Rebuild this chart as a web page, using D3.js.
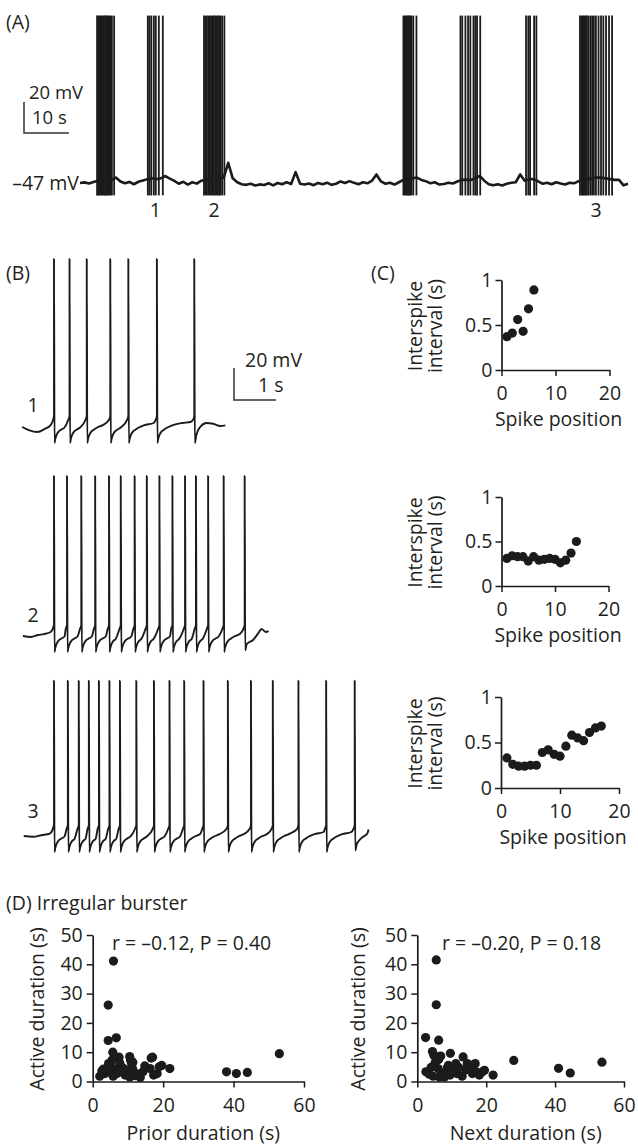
<!DOCTYPE html>
<html>
<head>
<meta charset="utf-8">
<script src="https://cdn.jsdelivr.net/npm/d3@7"></script>
<style>
  body { margin: 0; background: #fff; }
  text { font-family: "Open Sans", sans-serif; fill: #231f20; font-size: 19.5px; }
</style>
</head>
<body>
<div id="fig"></div>
<script>
// ---- data ----
const restMv = -47;

// (A) membrane potential, one sample per second (mV)
const traceA = [
  -47.0, -46.6, -47.3, -46.4, -45.6, -45.0, -44.6, -45.2, -43.5, -46.0,
  -47.2, -46.3, -47.8, -46.2, -45.4, -44.5, -44.0, -44.6, -44.0, -42.5,
  -44.2, -45.6, -47.5, -46.2, -48.0, -46.5, -47.4, -45.5, -45.0, -44.5,
  -44.6, -44.0, -43.6, -34.0, -44.0, -46.5, -47.8, -48.2, -47.5, -48.6,
  -47.9, -48.3, -47.2, -48.5, -47.0, -47.8, -46.5, -47.6, -40.0, -47.5,
  -48.0, -47.3, -48.4, -47.0, -47.8, -46.8, -48.2, -47.5, -46.0, -47.0,
  -45.8, -46.9, -47.8, -46.5, -47.2, -45.5, -41.5, -46.0, -47.5, -46.8,
  -48.0, -46.5, -45.0, -44.5, -44.0, -43.5, -45.0, -45.8, -47.2, -46.5,
  -48.0, -47.6, -46.8, -47.3, -46.0, -45.0, -44.8, -45.0, -44.0, -42.5,
  -45.5, -47.8, -48.5, -47.8, -48.6, -47.5, -46.8, -46.5, -41.5, -45.5,
  -44.5, -44.5, -46.0, -47.5, -46.8, -47.8, -46.5, -47.3, -48.0, -46.8,
  -47.2, -45.8, -45.0, -44.5, -44.0, -43.5, -43.5, -44.0, -44.5, -45.0,
  -45.0, -48.5, -47.5
];
const spikePeakA = 61;
const spikeTroughA = -55;

// spike times (s) of the unlabeled bursts in (A)
const burstA0 = [3.8, 4.05, 4.3, 4.55, 4.8, 5.05, 5.3, 5.55, 5.8, 6.05, 6.3, 6.55, 6.8, 7.1, 7.6];
const burstA4 = [72.0, 72.25, 72.5, 72.75, 73.0, 73.25, 73.5, 73.8, 74.2, 74.9];
const burstA5 = [84.7, 85.1, 85.8, 86.4, 86.9, 87.6, 88.0, 88.4, 89.1];
const burstA6 = [99.3, 99.8, 100.2, 101.1, 101.6];
// onsets (s) of the labeled bursts 1, 2, 3
const burstOnsets = [15.1, 27.6, 111.3];
const burstLabels = ["1", "2", "3"];

// (C) interspike intervals (s), by spike position
const isi1 = [0.37, 0.41, 0.56, 0.43, 0.68, 0.89];
const isi2 = [0.31, 0.34, 0.33, 0.33, 0.28, 0.33, 0.29, 0.30, 0.31, 0.30, 0.26, 0.29, 0.37, 0.50];
const isi3 = [0.33, 0.26, 0.24, 0.24, 0.25, 0.25, 0.39, 0.42, 0.37, 0.35, 0.46, 0.58, 0.55, 0.52, 0.61, 0.66, 0.68];

// (B) waveform pieces, [s from spike, mV]
const ahpShape = [[0.012, -10], [0.03, -7.5], [0.06, -5], [0.1, -3.2], [0.16, -1.8],
                  [0.25, -0.3], [0.38, 1.2], [0.6, 2.5], [0.8, 3.1]];
const preSpike = [[-0.03, 4.5], [0, 7]];
const peaksB = [105, 100, 97];
const preB1 = [[-0.76, -47], [-0.6, -48.9], [-0.4, -50.1], [-0.22, -48.2], [-0.08, -45.8]];
const postB1 = [[0.012, -57], [0.05, -52], [0.14, -47], [0.29, -44.5], [0.45, -45], [0.62, -46.4], [0.74, -46]];
const preB2 = [[-0.74, -47], [-0.55, -47.6], [-0.38, -46.4], [-0.24, -45.8], [-0.08, -44.5]];
const postB2 = [[0.012, -56], [0.05, -52], [0.2, -49.5], [0.33, -45], [0.4, -42.6], [0.5, -44.5], [0.57, -44]];
const preB3 = [[-0.72, -47], [-0.5, -47.5], [-0.3, -46.5], [-0.1, -45.5]];
const postB3 = [[0.012, -56], [0.05, -52], [0.1, -50], [0.2, -47.5], [0.3, -45.5], [0.33, -43]];

// (D) irregular burster durations (s)
const priorDur = [5.9, 4.4, 4.4, 6.7, 5.7, 7.5, 10.5, 11.4, 17.0, 18.9, 21.9, 38.0, 40.8, 43.9, 53.0,
  2.0, 2.6, 3.5, 4.5, 5.5, 5.9, 6.9, 8.1, 9.2, 9.8, 10.5, 11.3, 12.4, 13.5, 14.3, 16.3, 17.3, 18.3,
  19.6, 11.0, 7.7, 4.4, 5.8, 8.8, 14.8, 10.7, 16.6, 3.0, 12.0, 7.0];
const activeDurPrior = [41.1, 26.1, 14.0, 14.9, 10.0, 8.3, 8.5, 6.6, 8.3, 5.0, 4.4, 3.3, 2.7, 3.1, 9.5,
  1.8, 3.6, 2.7, 6.1, 7.3, 4.4, 2.7, 5.0, 2.2, 3.8, 1.5, 4.4, 2.7, 1.4, 3.3, 4.4, 2.2, 2.7,
  5.5, 6.3, 6.3, 3.8, 1.8, 4.4, 5.3, 7.4, 8.0, 4.2, 2.0, 3.5];
const nextDur = [5.5, 5.5, 6.2, 2.4, 4.4, 9.6, 6.8, 5.2, 13.3, 16.8, 28.0, 41.0, 44.4, 53.6, 22.0,
  18.9, 2.5, 4.0, 4.6, 6.0, 7.4, 8.6, 9.5, 10.5, 11.5, 12.0, 13.0, 14.0, 15.0, 16.0, 17.0, 18.0,
  5.2, 6.2, 11.2, 14.5, 15.5, 7.9, 6.4, 4.8, 9.0, 19.5, 3.5];
const activeDurNext = [41.5, 26.2, 14.1, 15.0, 10.2, 9.6, 8.7, 6.6, 8.4, 6.1, 7.2, 4.5, 2.9, 6.6, 2.2,
  3.3, 3.3, 4.8, 1.8, 4.4, 2.7, 4.4, 2.2, 3.9, 2.7, 4.8, 1.8, 3.9, 5.0, 2.7, 3.3, 2.2,
  8.7, 7.5, 6.1, 6.1, 4.4, 1.5, 1.5, 9.0, 5.5, 3.8, 2.5];
const statsText = ["r = \u20130.12, P = 0.40", "r = \u20130.20, P = 0.18"];

// ---- drawing ----
const W = 638, H = 1147;
const ink = "#1c1a1b";
const svg = d3.select("#fig").append("svg")
    .attr("width", W).attr("height", H);
svg.append("rect").attr("width", W).attr("height", H).attr("fill", "#fff");

function cumTimes(onset, isi) {
    const t = [onset];
    isi.forEach(d => t.push(t[t.length - 1] + d));
    return t;
}

// ---------- (A) ----------
const xA = d3.scaleLinear().domain([0, traceA.length - 1]).range([80, 628]);
// 20 mV = 31 px
const yA = d3.scaleLinear().domain([restMv, restMv + 20]).range([183, 152]);

svg.append("text").attr("x", 6).attr("y", 29).text("(A)");

const labeled = [isi1, isi2, isi3].map((isi, i) => cumTimes(burstOnsets[i], isi));
const allSpikesA = [burstA0, labeled[0], labeled[1], burstA4, burstA5, burstA6, labeled[2]].flat();

svg.append("g").selectAll("line").data(allSpikesA).join("line")
    .attr("x1", d => xA(d)).attr("x2", d => xA(d))
    .attr("y1", yA(spikePeakA)).attr("y2", yA(spikeTroughA))
    .attr("stroke", ink).attr("stroke-width", 1.8);

svg.append("path")
    .datum(traceA)
    .attr("fill", "none").attr("stroke", ink).attr("stroke-width", 2.6)
    .attr("stroke-linejoin", "round")
    .attr("d", d3.line().x((d, i) => xA(i)).y(d => yA(d)));

svg.append("g").selectAll("text").data(labeled).join("text")
    .attr("x", d => xA((d[0] + d[d.length - 1]) / 2))
    .attr("y", 217).attr("text-anchor", "middle")
    .text((d, i) => burstLabels[i]);

svg.append("text").attr("x", 79).attr("y", 190).attr("text-anchor", "end").text("\u201347 mV");

// scale bar A
const sbA = { x: 24, y: 133 };
svg.append("path")
    .attr("d", `M${sbA.x},${sbA.y - (yA(restMv) - yA(restMv + 20))}V${sbA.y}H${sbA.x + xA(10) - xA(0)}`)
    .attr("fill", "none").attr("stroke", "#333").attr("stroke-width", 1.5);
svg.append("text").attr("x", 29).attr("y", 99).style("font-size", "18.5px").text("20 mV");
svg.append("text").attr("x", 32).attr("y", 124).style("font-size", "18.5px").text("10 s");

// ---------- (B) ----------
svg.append("text").attr("x", 6).attr("y", 280).text("(B)");

const xB = d3.scaleLinear().domain([0, 1]).range([54, 96]);
const traceSpecs = [
    { isi: isi1, pre: preB1, post: postB1, base: 427, label: "1", ly: 412 },
    { isi: isi2, pre: preB2, post: postB2, base: 636, label: "2", ly: 622 },
    { isi: isi3, pre: preB3, post: postB3, base: 836, label: "3", ly: 818 }
];

traceSpecs.forEach((s, k) => {
    const yB = d3.scaleLinear().domain([restMv, restMv + 100]).range([s.base, s.base - 160]);
    const times = cumTimes(0, s.isi);
    const pts = s.pre.slice();
    pts.push([0, restMv + preSpike[1][1]]);
    times.forEach((t, i) => {
        pts.push([t, restMv + peaksB[k]]);
        const next = times[i + 1];
        if (next === undefined) {
            s.post.forEach(p => pts.push([t + p[0], p[1]]));
            return;
        }
        ahpShape.forEach(p => {
            if (t + p[0] < next - 0.05) pts.push([t + p[0], restMv + p[1]]);
        });
        preSpike.forEach(p => pts.push([next + p[0], restMv + p[1]]));
    });
    svg.append("path")
        .datum(pts)
        .attr("fill", "none").attr("stroke", ink).attr("stroke-width", 1.9)
        .attr("stroke-linejoin", "round")
        .attr("d", d3.line().x(d => xB(d[0])).y(d => yB(d[1])).curve(d3.curveMonotoneX));
    svg.append("text").attr("x", 33).attr("y", s.ly).attr("text-anchor", "middle").text(s.label);
});

// scale bar B
const sbB = { x: 234, y: 400 };
svg.append("path")
    .attr("d", `M${sbB.x},${sbB.y - 32}V${sbB.y}H${sbB.x + xB(1) - xB(0)}`)
    .attr("fill", "none").attr("stroke", "#333").attr("stroke-width", 1.5);
svg.append("text").attr("x", 245).attr("y", 367).text("20 mV");
svg.append("text").attr("x", 258).attr("y", 392).text("1 s");

// ---------- (C) ----------
svg.append("text").attr("x", 371).attr("y", 280).text("(C)");

const cPanels = [
    { isi: isi1, top: 280, bottom: 370, left: 501.5, right: 609.5 },
    { isi: isi2, top: 497, bottom: 586, left: 501.5, right: 608.5 },
    { isi: isi3, top: 697, bottom: 788, left: 501, right: 619 }
];

function styleAxis(g) {
    g.attr("font-family", null).attr("font-size", null);
    g.select(".domain").attr("stroke", ink).attr("stroke-width", 1.7);
    g.selectAll(".tick line").attr("stroke", ink).attr("stroke-width", 1.5);
    g.selectAll(".tick text").attr("fill", "#231f20");
}

cPanels.forEach(p => {
    const x = d3.scaleLinear().domain([0, 20]).range([p.left, p.right]);
    const y = d3.scaleLinear().domain([0, 1]).range([p.bottom, p.top]);
    svg.append("g").attr("transform", `translate(0,${p.bottom})`)
        .call(d3.axisBottom(x).tickValues([0, 10, 20]).tickSize(6).tickSizeOuter(0).tickPadding(10))
        .call(styleAxis);
    svg.append("g").attr("transform", `translate(${p.left},0)`)
        .call(d3.axisLeft(y).tickValues([0, 0.5, 1]).tickFormat(d => d).tickSize(6).tickSizeOuter(0).tickPadding(3))
        .call(styleAxis);
    svg.append("g").selectAll("circle").data(p.isi).join("circle")
        .attr("cx", (d, i) => x(i + 1)).attr("cy", d => y(d))
        .attr("r", 4.6).attr("fill", ink);
    svg.append("text").attr("x", (p.left + p.right) / 2 + 3).attr("y", p.bottom + 56)
        .attr("text-anchor", "middle").text("Spike position");
    const cy = (p.top + p.bottom) / 2 + 1;
    svg.append("text").attr("transform", `translate(422,${cy}) rotate(-90)`)
        .attr("text-anchor", "middle").text("Interspike");
    svg.append("text").attr("transform", `translate(442,${cy}) rotate(-90)`)
        .attr("text-anchor", "middle").text("interval (s)");
});

// ---------- (D) ----------
svg.append("text").attr("x", 6).attr("y", 910).text("(D) Irregular burster");

const dPanels = [
    { xs: priorDur, ys: activeDurPrior, left: 92.7, right: 304, title: "Prior duration (s)", stat: statsText[0], sx: 112, lx: 44 },
    { xs: nextDur, ys: activeDurNext, left: 417.3, right: 624, title: "Next duration (s)", stat: statsText[1], sx: 442, lx: 365 }
];

dPanels.forEach(p => {
    const x = d3.scaleLinear().domain([0, 60]).range([p.left, p.right]);
    const y = d3.scaleLinear().domain([0, 50]).range([1081.5, 935]);
    svg.append("g").attr("transform", "translate(0,1081.5)")
        .call(d3.axisBottom(x).tickValues([0, 20, 40, 60]).tickSize(6).tickSizeOuter(0).tickPadding(11))
        .call(styleAxis);
    svg.append("g").attr("transform", `translate(${p.left},0)`)
        .call(d3.axisLeft(y).tickValues([0, 10, 20, 30, 40, 50]).tickSize(6).tickSizeOuter(0).tickPadding(4))
        .call(styleAxis);
    svg.append("g").selectAll("circle").data(p.xs).join("circle")
        .attr("cx", d => x(d)).attr("cy", (d, i) => y(p.ys[i]))
        .attr("r", 4.6).attr("fill", ink);
    svg.append("text").attr("x", p.sx).attr("y", 950).text(p.stat);
    svg.append("text").attr("x", (p.left + p.right) / 2 + 5).attr("y", 1140)
        .attr("text-anchor", "middle").text(p.title);
    svg.append("text").attr("transform", `translate(${p.lx},1009) rotate(-90)`)
        .attr("text-anchor", "middle").text("Active duration (s)");
});
</script>
</body>
</html>
